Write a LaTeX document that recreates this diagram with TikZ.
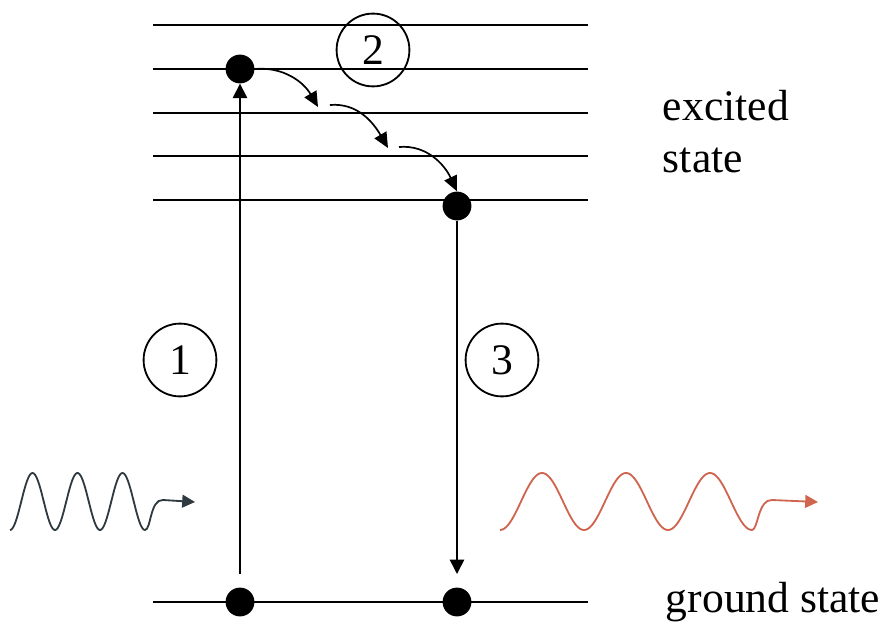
\documentclass[tikz,border=0pt]{standalone}
\usepackage{fontspec}
\setmainfont{Liberation Serif}
\usepackage{tikz}
\usetikzlibrary{arrows.meta, positioning, calc}

\definecolor{wavegray}{RGB}{46,58,63}
\definecolor{wavered}{RGB}{208,101,79}

\begin{document}
\begin{tikzpicture}[x=0.025cm, y=-0.025cm,
    every node/.style={font=\fontsize{31}{37}\selectfont},
    level/.style={line width=1.4pt},
    dot/.style={circle, fill=black, inner sep=0pt, minimum size=0.72cm},
    step label/.style={circle, draw=black, line width=1.3pt, inner sep=0pt, minimum size=1.82cm},
    trans/.style={line width=1.1pt, -{Triangle[length=0.36cm, width=0.36cm]}},
    hop/.style={line width=1.2pt, -{Triangle[length=0.38cm, width=0.34cm]}},
    wave/.style={line width=1.3pt, -{Triangle[length=0.32cm, width=0.32cm]}}]
    \useasboundingbox (0,0) rectangle (891,622);

    % energy levels
    \foreach \y in {25, 69, 113, 156, 200, 602}
        \draw[level] (153,\y) -- (588,\y);

    \node[dot] (top) at (240,69) {};
    \node[dot] (low) at (457,206) {};
    \node[dot] (g1) at (240,602) {};
    \node[dot] (g2) at (457,602) {};

    \node[step label] (s1) at (180,360) {1};
    \node[step label] (s2) at (373,50) {2};
    \node[step label] (s3) at (502,360) {3};

    % absorption and emission
    \coordinate (up start) at (240,574);
    \coordinate (down end) at (457,574);
    \draw[trans] (up start) -- (top.south);
    \draw[trans] (low.south) -- (down end);

    % relaxation steps
    \coordinate (h1) at (318,107);
    \coordinate (h2) at (330,105);
    \coordinate (h3) at (388,148);
    \coordinate (h4) at (399,147);
    \draw[hop] (top.east) to[out=5, in=120] (h1);
    \draw[hop] (h2) to[out=5, in=120] (h3);
    \draw[hop] (h4) to[out=5, in=115] (low.north);

    % photons
    \coordinate (in tip) at (195,502);
    \coordinate (out tip) at (818,502);
    \draw[wave, draw=wavegray] plot[domain=10:145, samples=120, smooth] (\x, {501.5+28.5*cos(8*(\x-10))})
        .. controls (151,530) and (150,499) .. (163,500) -- (in tip);
    \draw[wave, draw=wavered] plot[domain=500:752, samples=160, smooth] (\x, {501.5+28.5*cos(360/84*(\x-500))})
        .. controls (758,530) and (758,499) .. (772,500) -- (out tip);

    \node[anchor=base west, align=left] (exc) at (658,173) {excited\\state};
    \node[anchor=base west] (gnd) at (661,612) {ground state};
\end{tikzpicture}
\end{document}
